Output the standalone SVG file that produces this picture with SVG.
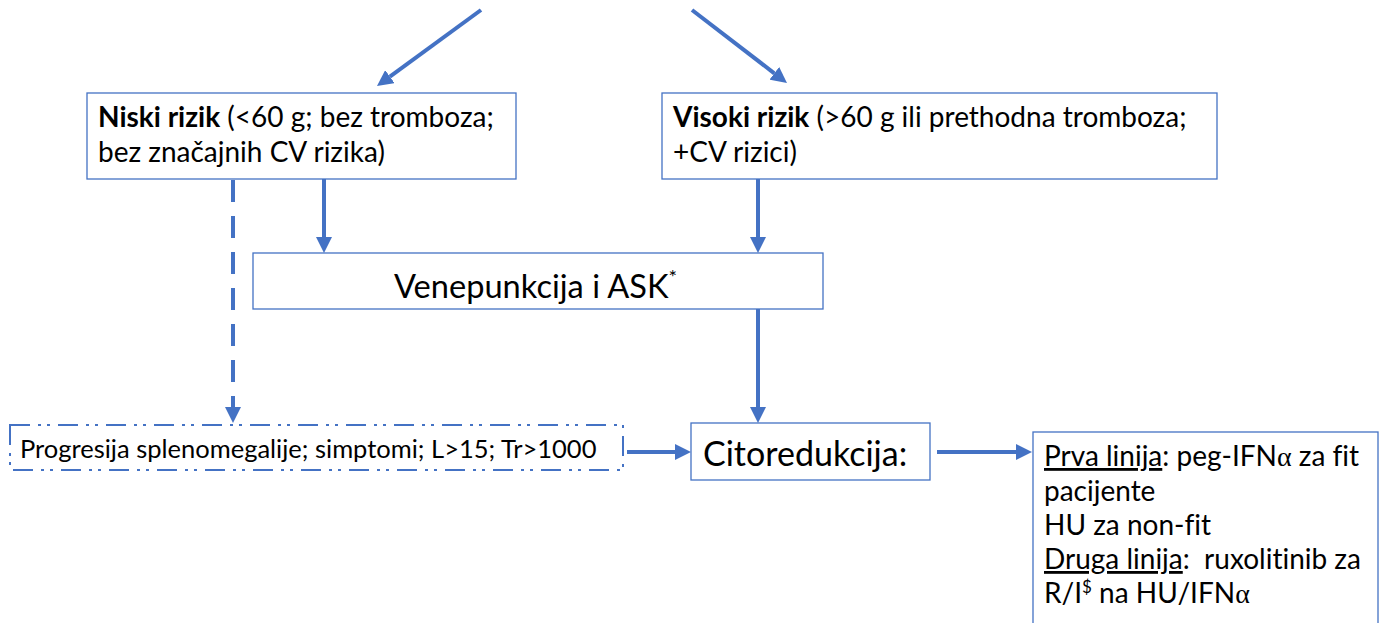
<svg xmlns="http://www.w3.org/2000/svg" width="1387" height="623" viewBox="0 0 1387 623">
<defs>
<style>
.box{fill:#fff;stroke:#4472C4;stroke-width:1.3}
.dd{fill:#fff;stroke:#4472C4;stroke-width:2;stroke-dasharray:20 8 3 6 3 8}
.t{font-family:Lato,"Liberation Sans",sans-serif;fill:#000;font-variant-ligatures:none}
.c{stroke:#4472C4;stroke-width:4;fill:none}
.b{font-weight:bold}
.g{font-family:"Liberation Serif",serif}
</style>
<marker id="ah" markerUnits="userSpaceOnUse" markerWidth="16" markerHeight="16" refX="0" refY="8" orient="auto" viewBox="0 0 16 16">
<path d="M0,0 L16,8 L0,16 z" fill="#4472C4"/>
</marker>
</defs>
<g id="connectors">
<line class="c" x1="481" y1="10" x2="389.9" y2="76.6" marker-end="url(#ah)"/>
<line class="c" x1="692" y1="10" x2="774.3" y2="73.3" marker-end="url(#ah)"/>
<line class="c" x1="324" y1="179" x2="324" y2="237" marker-end="url(#ah)"/>
<line class="c" x1="233" y1="180" x2="233" y2="407" stroke-dasharray="22 14" marker-end="url(#ah)"/>
<line class="c" x1="758" y1="179" x2="758" y2="237" marker-end="url(#ah)"/>
<line class="c" x1="758" y1="309" x2="758" y2="407" marker-end="url(#ah)"/>
<line class="c" x1="627" y1="452" x2="675" y2="452" marker-end="url(#ah)"/>
<line class="c" x1="937" y1="452" x2="1016" y2="452" marker-end="url(#ah)"/>
</g>
<g id="niski">
<rect class="box" x="87" y="93" width="429" height="86"/>
<text class="t" x="98" y="127" font-size="28"><tspan class="b">Niski rizik</tspan> (&lt;60 g; bez tromboza;</text>
<text class="t" x="98" y="162" font-size="28">bez značajnih CV rizika)</text>
</g>
<g id="visoki">
<rect class="box" x="662" y="93" width="555" height="86"/>
<text class="t" x="673" y="127" font-size="28"><tspan class="b">Visoki rizik</tspan> (&gt;60 g ili prethodna tromboza;</text>
<text class="t" x="673" y="162" font-size="28">+CV rizici)</text>
</g>
<g id="vene">
<rect class="box" x="253" y="253" width="570" height="56"/>
<text class="t" x="394" y="298" font-size="32.6">Venepunkcija i ASK<tspan font-size="20" dy="-14">*</tspan></text>
</g>
<g id="progresija">
<rect class="dd" x="10" y="425" width="613" height="45"/>
<text class="t" x="20" y="458" font-size="25.5">Progresija splenomegalije; simptomi; L&gt;15; Tr&gt;1000</text>
</g>
<g id="cito">
<rect class="box" x="691" y="423" width="239" height="57"/>
<text class="t" x="703" y="466" font-size="34">Citoredukcija:</text>
</g>
<g id="terapija">
<rect class="box" x="1033" y="432" width="345" height="200"/>
<text class="t" x="1044" y="466" font-size="28"><tspan text-decoration="underline">Prva linija</tspan>: peg-IFN<tspan class="g">α</tspan> za fit</text>
<text class="t" x="1044" y="501" font-size="28">pacijente</text>
<text class="t" x="1044" y="535" font-size="28">HU za non-fit</text>
<text class="t" x="1044" y="569" font-size="28"><tspan text-decoration="underline">Druga linija</tspan>:&#160; ruxolitinib za</text>
<text class="t" x="1044" y="603" font-size="28">R/I<tspan font-size="17" dy="-10">$</tspan><tspan dy="10"> na HU/IFN</tspan><tspan class="g">α</tspan></text>
</g>
</svg>
